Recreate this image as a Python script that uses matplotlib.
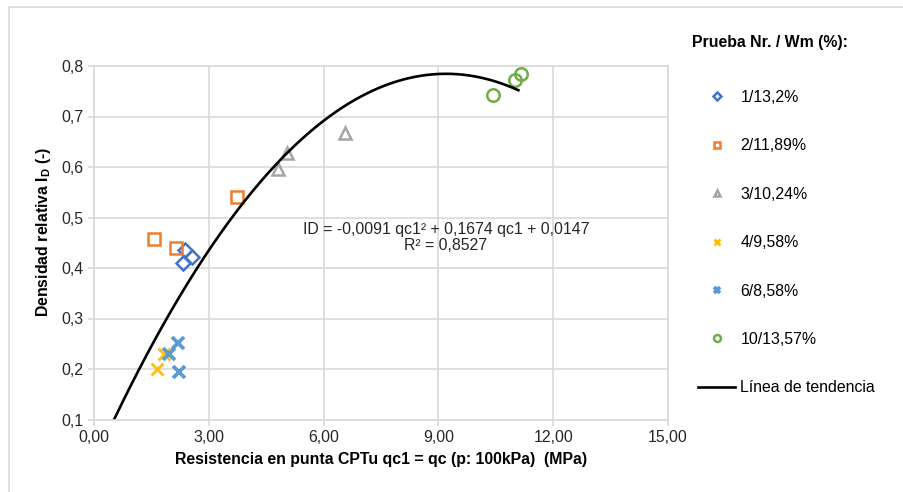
import matplotlib
matplotlib.use("Agg")
import matplotlib.pyplot as plt
import numpy as np
from matplotlib.patches import Rectangle

plt.rcParams["font.family"] = ["Liberation Sans", "DejaVu Sans"]
plt.rcParams["mathtext.fontset"] = "custom"
plt.rcParams["mathtext.rm"] = "Liberation Sans"
plt.rcParams["mathtext.bf"] = "Liberation Sans:bold"

# data
labels = ["1/13,2%", "2/11,89%", "3/10,24%", "4/9,58%", "6/8,58%", "10/13,57%"]
x1 = [2.38, 2.32, 2.55]
y1 = [0.436, 0.409, 0.422]
x2 = [1.58, 2.14, 3.74]
y2 = [0.457, 0.440, 0.541]
x3 = [4.80, 5.04, 6.56]
y3 = [0.596, 0.627, 0.668]
x4 = [1.64, 1.83]
y4 = [0.200, 0.229]
x6 = [2.20, 1.96, 2.22]
y6 = [0.252, 0.229, 0.195]
x10 = [10.42, 11.00, 11.15]
y10 = [0.743, 0.772, 0.784]

# trend line coefficients (as printed on chart) and its range
trend_coef = [-0.0091, 0.1674, 0.0147]
trend_x0, trend_x1 = 0.53, 11.09

colors = ["#4472C4", "#ED7D31", "#A5A5A5", "#FFC000", "#5B9BD5", "#70AD47"]
fs = 11.4

fig = plt.figure(figsize=(9.04, 4.92), dpi=100)
ax = fig.add_axes([94 / 904, 1 - 419.5 / 492, (668 - 94) / 904, (419.5 - 66) / 492])

# outer chart border
fig.patches.append(Rectangle((9 / 904, -0.1), 1.2, 1 - 7 / 492 + 0.1,
                             transform=fig.transFigure, fill=False,
                             edgecolor="#d9d9d9", linewidth=1.2))

mk = dict(linestyle="none", markerfacecolor="none", markeredgewidth=1.8)
ax.plot(x1, y1, marker="D", markersize=7.3, color=colors[0], label=labels[0], **mk)
ax.plot(x2, y2, marker="s", markersize=8.8, color=colors[1], label=labels[1], **mk)
ax.plot(x3, y3, marker="^", markersize=9, color=colors[2], label=labels[2], **mk)
ax.plot(x4, y4, marker="x", markersize=9, color=colors[3], label=labels[3], linestyle="none", markeredgewidth=2)
ax.plot(x6, y6, marker="x", markersize=8.5, color=colors[4], label=labels[4], linestyle="none", markeredgewidth=2.7)
ax.plot(x10, y10, marker="o", markersize=9, color=colors[5], label=labels[5], **mk)

tx = np.linspace(trend_x0, trend_x1, 200)
ax.plot(tx, np.polyval(trend_coef, tx), color="black", linewidth=1.9, label="Línea de tendencia")

ax.text(9.2, 0.46, "ID = -0,0091 qc1² + 0,1674 qc1 + 0,0147\nR² = 0,8527",
        ha="center", va="center", multialignment="center", fontsize=fs, color="#262626",
        linespacing=1.1)

ax.set_xlim(0, 15)
ax.set_ylim(0.1, 0.8)
ax.set_xticks(np.arange(0, 15.1, 3))
ax.set_yticks(np.arange(0.1, 0.81, 0.1))
ax.set_xticklabels([f"{v:.2f}".replace(".", ",") for v in np.arange(0, 15.1, 3)])
ax.set_yticklabels([f"{v:.1f}".replace(".", ",") for v in np.arange(0.1, 0.81, 0.1)])
ax.grid(True, color="#d9d9d9", linewidth=1.2)
ax.set_axisbelow(True)
for s in ax.spines.values():
    s.set_color("#d9d9d9")
    s.set_linewidth(1.2)
ax.tick_params(colors="#d9d9d9", labelcolor="#262626", labelsize=fs, length=4, width=1.2)

ax.set_xlabel("Resistencia en punta CPTu qc1 = qc (p: 100kPa)  (MPa)", fontsize=fs,
              fontweight="bold", labelpad=5)
ax.set_ylabel(r"Densidad relativa I$_\mathbf{D}$ (-)", fontsize=fs, fontweight="bold")
ax.yaxis.set_label_coords(-0.072, 0.53)

fig.text(692 / 904, 1 - 43 / 492, "Prueba Nr. / Wm (%):", fontsize=fs, fontweight="bold",
         ha="left", va="center")
ax.legend(loc="upper left", bbox_to_anchor=(698 / 904, 1 - 90 / 492),
          bbox_transform=fig.transFigure, frameon=False, fontsize=fs,
          labelspacing=2.11, handlelength=2.35, handletextpad=0.32,
          markerscale=0.55, borderaxespad=0, borderpad=0)

fig.savefig("out.png", dpi=100)
